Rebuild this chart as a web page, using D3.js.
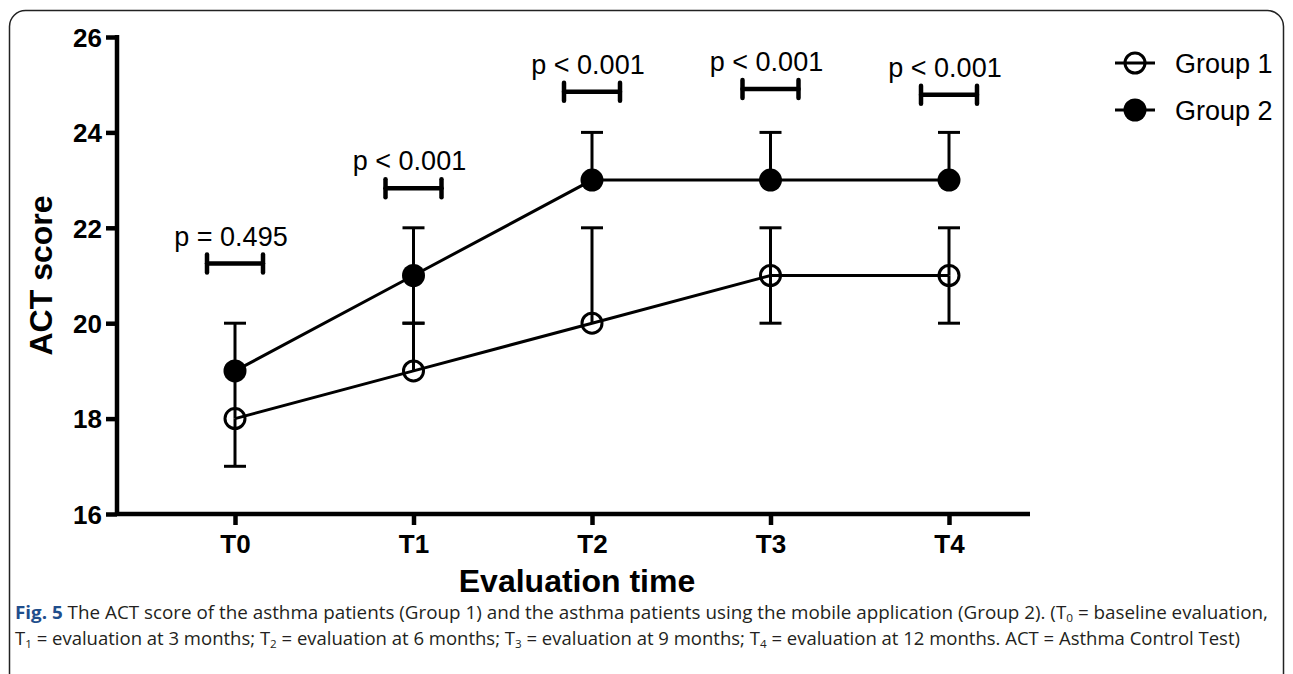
<!DOCTYPE html>
<html>
<head>
<meta charset="utf-8">
<script src="https://cdn.jsdelivr.net/npm/d3@7"></script>
<style>
  body { margin: 0; background: #fff; }
  svg { display: block; }
</style>
</head>
<body>
<div id="chart"></div>
<script>
// data
const timepoints = ["T0", "T1", "T2", "T3", "T4"];
const group1 = [18, 19, 20, 21, 21];
const group1Low = [17, 19, 20, 20, 20];
const group1High = [19, 20, 22, 22, 22];
const group2 = [19, 21, 23, 23, 23];
const group2Low = [19, 20, 23, 23, 23];
const group2High = [20, 22, 24, 24, 24];
const pLabels = ["p = 0.495", "p < 0.001", "p < 0.001", "p < 0.001", "p < 0.001"];
const pLevels = [21.25, 22.83, 24.85, 24.91, 24.79];
const yTicks = [16, 18, 20, 22, 24, 26];
const legendNames = ["Group 1", "Group 2"];

const W = 1293, H = 674;
const svg = d3.select("#chart").append("svg")
    .attr("width", W)
    .attr("height", H);

// rounded frame
svg.append("rect")
    .attr("x", 9.5).attr("y", 10.5)
    .attr("width", 1274).attr("height", 700)
    .attr("rx", 16)
    .attr("fill", "none")
    .attr("stroke", "#222")
    .attr("stroke-width", 1.5);

const x = d3.scaleLinear().domain([0, 4]).range([235, 949]);
const y = d3.scaleLinear().domain([16, 26]).range([514, 37]);
const xLeft = x.invert(117), xRight = x.invert(1030);

const font = "Arial, 'Liberation Sans', Helvetica, sans-serif";

// axes
const yAxis = svg.append("g")
    .attr("transform", "translate(117,0)")
    .call(d3.axisLeft(y).tickValues(yTicks).tickSize(11).tickPadding(4).tickFormat(d3.format("d")));
const xAxis = svg.append("g")
    .attr("transform", `translate(0,${y(16)})`)
    .call(d3.axisBottom(x).tickValues(d3.range(timepoints.length)).tickSize(11).tickPadding(10)
        .tickFormat(i => timepoints[i]));

yAxis.select(".domain").attr("d", `M0,${y(26) - 2}V${y(16)}`);
xAxis.select(".domain").attr("d", `M${x(xLeft)},0H${x(xRight)}`);

[yAxis, xAxis].forEach(g => {
    g.select(".domain").attr("stroke", "#000").attr("stroke-width", 4.5);
    g.selectAll(".tick line").attr("stroke", "#000").attr("stroke-width", 4.5);
    g.selectAll(".tick text")
        .attr("fill", "#000")
        .style("font-family", font)
        .style("font-weight", "bold")
        .style("font-size", "26px");
});
yAxis.selectAll(".tick text").attr("dy", "0.36em");

// axis titles
svg.append("text")
    .attr("transform", `translate(52,${(y(16) + y(26)) / 2}) rotate(-90)`)
    .attr("text-anchor", "middle")
    .style("font-family", font)
    .style("font-weight", "bold")
    .style("font-size", "32px")
    .text("ACT score");

svg.append("text")
    .attr("x", 577)
    .attr("y", 592)
    .attr("text-anchor", "middle")
    .style("font-family", font)
    .style("font-weight", "bold")
    .style("font-size", "32px")
    .text("Evaluation time");

// connecting lines
const line = d3.line().x((d, i) => x(i)).y(d => y(d));
[group1, group2].forEach(vals => {
    svg.append("path")
        .attr("d", line(vals))
        .attr("fill", "none")
        .attr("stroke", "#000")
        .attr("stroke-width", 3);
});

// error bars
const capW = 11;
function errorBars(vals, lows, highs) {
    vals.forEach((v, i) => {
        [lows[i], highs[i]].forEach(e => {
            if (e === v) return;
            svg.append("line")
                .attr("x1", x(i)).attr("x2", x(i))
                .attr("y1", y(v)).attr("y2", y(e))
                .attr("stroke", "#000").attr("stroke-width", 3);
            svg.append("line")
                .attr("x1", x(i) - capW).attr("x2", x(i) + capW)
                .attr("y1", y(e)).attr("y2", y(e))
                .attr("stroke", "#000").attr("stroke-width", 3);
        });
    });
}
errorBars(group1, group1Low, group1High);
errorBars(group2, group2Low, group2High);

// markers
svg.selectAll(".g1").data(group1).enter().append("circle")
    .attr("class", "g1")
    .attr("cx", (d, i) => x(i)).attr("cy", d => y(d))
    .attr("r", 10)
    .attr("fill", "none")
    .attr("stroke", "#000").attr("stroke-width", 3);
svg.selectAll(".g2").data(group2).enter().append("circle")
    .attr("class", "g2")
    .attr("cx", (d, i) => x(i)).attr("cy", d => y(d))
    .attr("r", 11.5)
    .attr("fill", "#000");

// significance brackets
const halfB = 28;
pLevels.forEach((lv, i) => {
    const g = svg.append("g").attr("stroke", "#000").attr("stroke-width", 4.5).attr("stroke-linecap", "round");
    g.append("line").attr("x1", x(i) - halfB).attr("x2", x(i) + halfB).attr("y1", y(lv)).attr("y2", y(lv));
    g.append("line").attr("x1", x(i) - halfB).attr("x2", x(i) - halfB).attr("y1", y(lv) - 9).attr("y2", y(lv) + 9);
    g.append("line").attr("x1", x(i) + halfB).attr("x2", x(i) + halfB).attr("y1", y(lv) - 9).attr("y2", y(lv) + 9);
    svg.append("text")
        .attr("x", x(i) - 4)
        .attr("y", y(lv) - 18)
        .attr("text-anchor", "middle")
        .style("font-family", font)
        .style("font-size", "27px")
        .text(pLabels[i]);
});

// legend
const legend = svg.append("g").attr("transform", "translate(1115,63)");
legendNames.forEach((name, i) => {
    const row = legend.append("g").attr("transform", `translate(0,${i * 47})`);
    row.append("line").attr("x1", 0).attr("x2", 40).attr("y1", 0).attr("y2", 0)
        .attr("stroke", "#000").attr("stroke-width", 3);
    if (i === 0) {
        row.append("circle").attr("cx", 20).attr("r", 10)
            .attr("fill", "none").attr("stroke", "#000").attr("stroke-width", 3);
    } else {
        row.append("circle").attr("cx", 20).attr("r", 11.5).attr("fill", "#000");
    }
    row.append("text")
        .attr("x", 60).attr("y", 10)
        .style("font-family", font)
        .style("font-size", "27px")
        .text(name);
});

// caption, subscripts done with baseline-shift so the lines keep their spacing
const capFont = "'Open Sans', 'Noto Sans', sans-serif";
const cap1 = svg.append("text")
    .attr("x", 15).attr("y", 619)
    .attr("textLength", 1253)
    .attr("lengthAdjust", "spacingAndGlyphs")
    .style("font-family", capFont)
    .style("font-size", "17.5px")
    .attr("fill", "#231f20");
cap1.append("tspan").attr("fill", "#1f4e8c").style("font-weight", "bold").text("Fig. 5");
cap1.append("tspan").text(" The ACT score of the asthma patients (Group 1) and the asthma patients using the mobile application (Group 2). (T");
cap1.append("tspan").attr("baseline-shift", "-3px").style("font-size", "11px").text("0");
cap1.append("tspan").text(" = baseline evaluation,");

const cap2 = svg.append("text")
    .attr("x", 15).attr("y", 645)
    .attr("textLength", 1225)
    .attr("lengthAdjust", "spacingAndGlyphs")
    .style("font-family", capFont)
    .style("font-size", "17.5px")
    .attr("fill", "#231f20");
const parts = [
    ["T", "1", " = evaluation at 3 months; "],
    ["T", "2", " = evaluation at 6 months; "],
    ["T", "3", " = evaluation at 9 months; "],
    ["T", "4", " = evaluation at 12 months. ACT = Asthma Control Test)"]
];
parts.forEach(p => {
    cap2.append("tspan").text(p[0]);
    cap2.append("tspan").attr("baseline-shift", "-3px").style("font-size", "11px").text(p[1]);
    cap2.append("tspan").text(p[2]);
});
</script>
</body>
</html>
